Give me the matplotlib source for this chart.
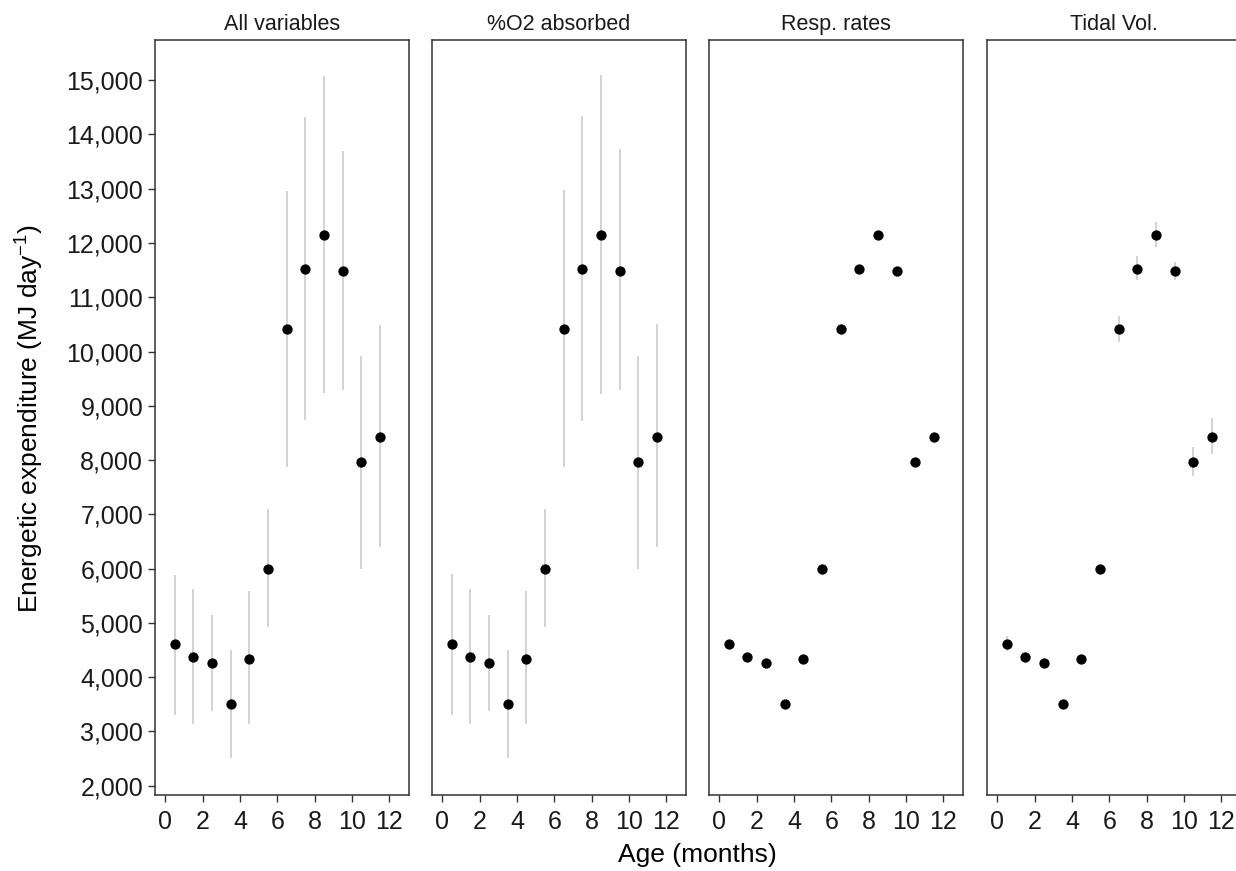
import matplotlib.pyplot as plt
from matplotlib.ticker import FuncFormatter
import numpy as np

plt.rcParams['font.family'] = ['Liberation Sans', 'DejaVu Sans']
plt.rcParams['mathtext.fontset'] = 'custom'
plt.rcParams['mathtext.rm'] = 'Liberation Sans'

# --- data ---
ages = [0.5, 1.5, 2.5, 3.5, 4.5, 5.5, 6.5, 7.5, 8.5, 9.5, 10.5, 11.5]
energy = [4620, 4370, 4260, 3500, 4330, 5990, 10420, 11520, 12140, 11490, 7960, 8430]

panels = ["All variables", "%O2 absorbed", "Resp. rates", "Tidal Vol."]

# lower / upper bounds of the grey intervals, one pair of lists per panel
lower_all = [3310, 3140, 3370, 2510, 3140, 4930, 7880, 8740, 9230, 9290, 6000, 6390]
upper_all = [5890, 5620, 5140, 4510, 5580, 7100, 12950, 14320, 15080, 13700, 9910, 10490]

lower_o2 = [3310, 3140, 3370, 2510, 3140, 4930, 7880, 8720, 9210, 9290, 6000, 6390]
upper_o2 = [5910, 5620, 5150, 4510, 5580, 7100, 12970, 14340, 15100, 13730, 9920, 10500]

lower_resp = [4560, 4320, 4220, 3470, 4300, 5960, 10380, 11480, 12100, 11450, 7930, 8400]
upper_resp = [4680, 4420, 4300, 3530, 4360, 6020, 10460, 11560, 12180, 11530, 7990, 8460]

lower_tidal = [4480, 4280, 4200, 3430, 4260, 5920, 10180, 11320, 11930, 11320, 7700, 8110]
upper_tidal = [4760, 4450, 4320, 3560, 4400, 6060, 10660, 11760, 12390, 11650, 8250, 8770]

lowers = [lower_all, lower_o2, lower_resp, lower_tidal]
uppers = [upper_all, upper_o2, upper_resp, upper_tidal]

# --- figure ---
W, H = 1236, 871
fig = plt.figure(figsize=(W / 100, H / 100), dpi=100)

lefts_px = [155, 432, 709, 987]
pw, top_px, bot_px = 254, 40, 795

for i, name in enumerate(panels):
    ax = fig.add_axes([lefts_px[i] / W, 1 - bot_px / H, pw / W, (bot_px - top_px) / H])
    ax.vlines(ages, lowers[i], uppers[i], color="#d3d3d3", lw=1.4, zorder=1)
    ax.scatter(ages, energy, s=55, color="black", zorder=2, linewidths=0)
    ax.set_xlim(-0.55, 13.05)
    ax.set_ylim(1830, 15740)
    ax.set_xticks(np.arange(0, 13, 2))
    ax.set_yticks(np.arange(2000, 15001, 1000))
    ax.yaxis.set_major_formatter(FuncFormatter(lambda v, p: f"{int(v):,}"))
    ax.tick_params(axis="both", labelsize=18, length=5, width=1, color="#333333",
                   labelcolor="#1a1a1a")
    ax.tick_params(axis="x", pad=5.5)
    ax.tick_params(axis="y", pad=3.5)
    for s in ax.spines.values():
        s.set_color("#333333")
        s.set_linewidth(1.1)
    if i > 0:
        ax.tick_params(axis="y", left=False, labelleft=False)
    ax.set_title(name, fontsize=15.5, color="#1a1a1a", pad=7)

fig.text(697 / W, 1 - 855 / H, "Age (months)", ha="center", va="center", fontsize=19)
fig.text(29 / W, 1 - 418 / H, "Energetic expenditure (MJ day$^{-1}$)", rotation=90,
         ha="center", va="center", fontsize=19)

fig.savefig("out.png", dpi=100)
